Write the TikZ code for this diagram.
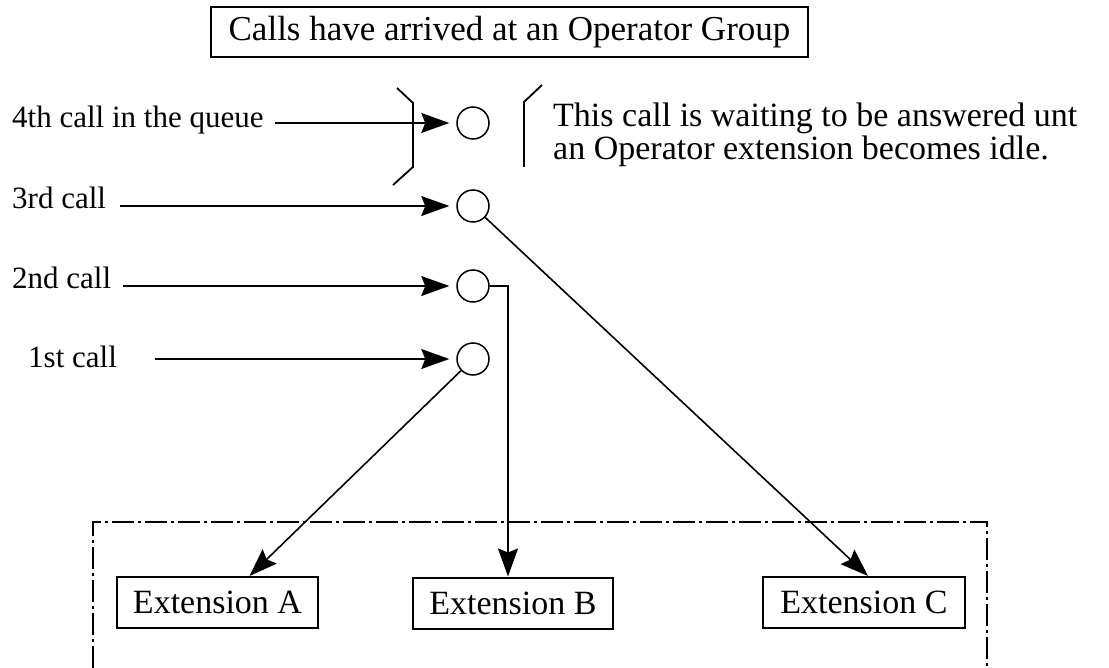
\documentclass[tikz,border=0pt]{standalone}
\usepackage{fontspec}
\setmainfont{Liberation Serif}
\usetikzlibrary{arrows.meta}
\begin{document}
\begin{tikzpicture}[x=1pt,y=-1pt,
  big/.style={font=\fontsize{34pt}{33pt}\selectfont},
  lab/.style={font=\fontsize{31pt}{33pt}\selectfont,anchor=base west,inner sep=0pt},
  callc/.style={draw,circle,minimum size=32pt,inner sep=0pt,line width=1.5pt},
  extbox/.style={draw,line width=2pt,minimum width=201pt,minimum height=51pt,inner sep=0pt,big},
  arr/.style={line width=1.6pt,-{Stealth[length=28pt,width=20pt,inset=4pt]}},
  bracket/.style={line width=1.8pt}]
\useasboundingbox (0,0) rectangle (1109,668);
% title
\node[draw,line width=2pt,minimum width=597pt,minimum height=50pt,inner sep=0pt,font=\fontsize{35pt}{36pt}\selectfont] (title) at (509.5,32) {Calls have arrived at an Operator Group};
% labels
\node[lab] (l4) at (12,128) {4th call in the queue};
\node[lab] (l3) at (12,209) {3rd call};
\node[lab] (l2) at (12,289) {2nd call};
\node[lab] (l1) at (28,368) {1st call};
% circles
\node[callc] (c4) at (473,123) {};
\node[callc] (c3) at (473,206) {};
\node[callc] (c2) at (473,286) {};
\node[callc] (c1) at (473,359) {};
% arrow starts
\coordinate (s4) at (275,123);
\coordinate (s3) at (120,206);
\coordinate (s2) at (123,286);
\coordinate (s1) at (155,359);
\draw[arr,shorten >=7pt] (s4) -- (c4);
\draw[arr,shorten >=7pt] (s3) -- (c3);
\draw[arr,shorten >=7pt] (s2) -- (c2);
\draw[arr,shorten >=7pt] (s1) -- (c1);
% brackets
\coordinate (lb1) at (397,88);
\coordinate (lb2) at (413,103);
\coordinate (lb3) at (413,167);
\coordinate (lb4) at (393,185);
\draw[bracket] (lb1) -- (lb2) -- (lb3) -- (lb4);
\coordinate (rb1) at (542,85);
\coordinate (rb2) at (524,102);
\coordinate (rb3) at (524,167);
\draw[bracket] (rb1) -- (rb2) -- (rb3);
% waiting text
\node[big,anchor=base west,inner sep=0pt,align=left] (wait) at (553,160) {This call is waiting to be answered unt\\an Operator extension becomes idle.};
% extension group
\coordinate (g1) at (93,668);
\coordinate (g2) at (93,522);
\coordinate (g3) at (987,522);
\coordinate (g4) at (987,668);
\draw[line width=1.6pt,dash pattern=on 22pt off 4pt on 3pt off 4pt] (g1) -- (g2) -- (g3) -- (g4);
\node[extbox] (eA) at (217.5,602.5) {Extension A};
\node[extbox,minimum width=200pt] (eB) at (513,603) {Extension B};
\node[extbox,minimum width=202pt] (eC) at (864,602.5) {Extension C};
% connectors
\draw[arr] (c1) -- ([xshift=32pt]eA.north);
\draw[arr] (c2.east) -| ([xshift=-5pt]eB.north);
\draw[arr] (c3) -- ([xshift=4pt]eC.north);
\end{tikzpicture}
\end{document}
